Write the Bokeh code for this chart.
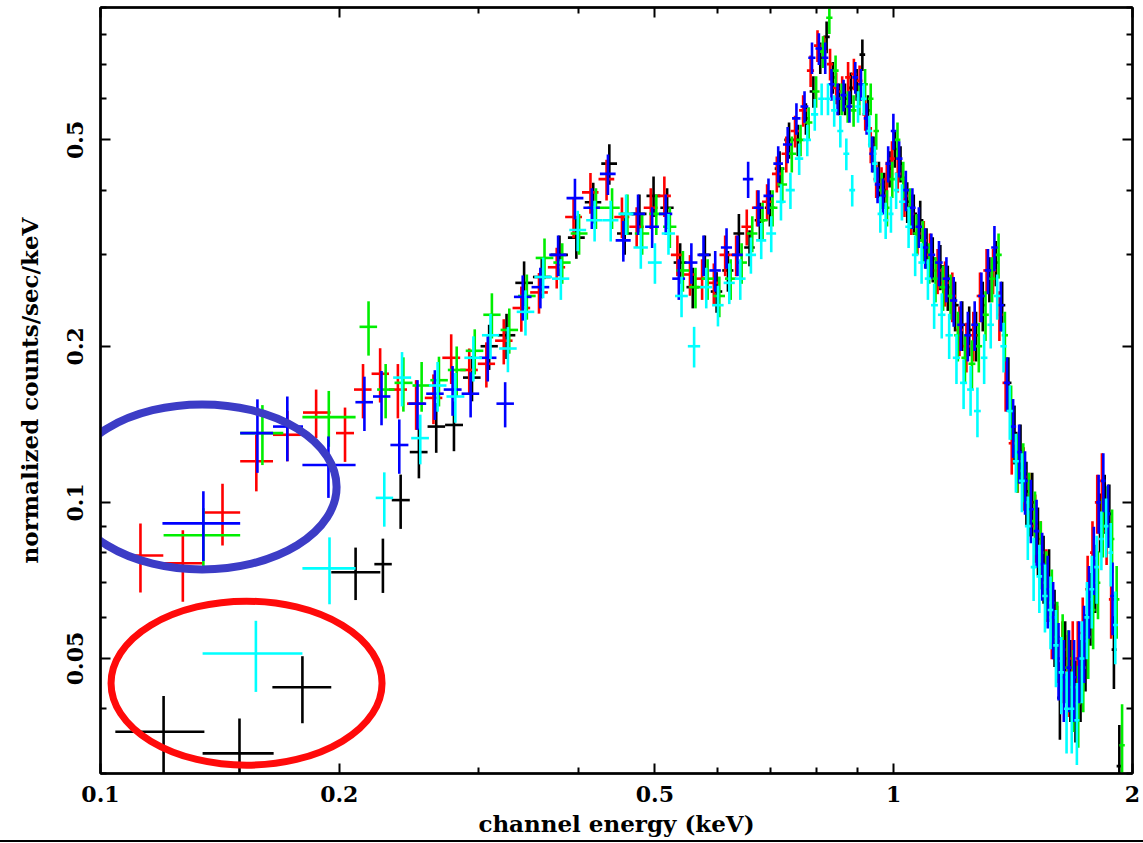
import math
from bokeh.plotting import figure
from bokeh.models import ColumnDataSource, FixedTicker, LogAxis, Range1d, CustomJSTickFormatter
from bokeh.embed import file_html
from bokeh.resources import INLINE

NaN = float("nan")

# ---------------- data ----------------
# common channel-energy grid (keV) above 0.2 keV
energy = [0.205, 0.216, 0.227, 0.239, 0.252, 0.265, 0.279, 0.294, 0.309, 0.325,
          0.342, 0.360, 0.379, 0.398, 0.418, 0.438, 0.458, 0.478, 0.498, 0.518,
          0.538, 0.558, 0.578, 0.598, 0.618, 0.638, 0.658, 0.678, 0.698, 0.718,
          0.738, 0.757, 0.775, 0.792, 0.808, 0.823, 0.838, 0.853, 0.868, 0.883,
          0.898, 0.913, 0.928, 0.943, 0.958, 0.973, 0.988, 1.003, 1.02, 1.04,
          1.06, 1.08, 1.10, 1.12, 1.145, 1.17, 1.195, 1.22, 1.245, 1.27,
          1.295, 1.32, 1.345, 1.37, 1.395, 1.42, 1.445, 1.47, 1.495, 1.52,
          1.545, 1.57, 1.595, 1.62, 1.645, 1.67, 1.695, 1.72, 1.745, 1.77,
          1.795, 1.82, 1.845, 1.87, 1.895, 1.925]

# relative 1-sigma error (%) on the grid
err_pct = [12, 12, 12, 12, 11, 11, 11, 10, 10, 10,
           10, 9, 9, 9, 9, 9, 9, 9, 9, 9,
           9, 9, 9, 9, 9, 9, 8, 8, 8, 8,
           8, 7, 7, 7, 7, 7, 7, 7, 7, 7,
           7, 7, 7, 8, 8, 8, 8, 8, 8, 9,
           9, 9, 9, 10, 10, 10, 11, 11, 11, 11,
           11, 10, 10, 11, 12, 13, 13, 14, 14, 15,
           15, 16, 17, 17, 18, 18, 18, 18, 17, 16,
           15, 13, 13, 14, 16, 20]

black_counts = [NaN, NaN, 0.076, 0.101, 0.125, 0.14, 0.141, 0.174, 0.20, 0.21,
                0.265, 0.272, 0.30, 0.324, 0.379, 0.45, 0.33, 0.36, 0.39, 0.37,
                0.29, 0.26, 0.30, 0.255, 0.28, 0.33, 0.31, 0.35, 0.37, 0.44,
                0.50, 0.50, 0.55, 0.62, 0.72, 0.79, 0.66, 0.60, 0.60, 0.63,
                0.64, 0.73, 0.57, 0.47, 0.42, 0.40, 0.44, 0.48, 0.45, 0.38,
                0.36, 0.35, 0.31, 0.295, 0.285, 0.26, 0.24, 0.22, 0.215, 0.21,
                0.24, 0.27, 0.29, 0.24, 0.17, 0.136, 0.125, 0.105, 0.10, 0.085,
                0.075, 0.07, 0.058, 0.042, 0.05, 0.046, 0.042, 0.046, 0.052, 0.063,
                0.072, 0.092, 0.10, 0.095, 0.052, 0.031]

red_counts = [0.136, 0.165, 0.177, 0.165, 0.155, 0.159, 0.19, 0.18, 0.185, 0.205,
              0.237, 0.254, 0.284, 0.355, 0.396, 0.42, 0.355, 0.34, 0.37, 0.39,
              0.30, 0.275, 0.27, 0.265, 0.30, 0.30, 0.34, 0.37, 0.38, 0.43,
              0.47, 0.52, 0.57, 0.68, 0.76, 0.74, 0.70, 0.63, 0.62, 0.66,
              0.67, 0.65, 0.56, 0.49, 0.42, 0.41, 0.42, 0.46, 0.43, 0.39,
              0.36, 0.33, 0.32, 0.30, 0.28, 0.265, 0.25, 0.215, 0.20, 0.21,
              0.25, 0.28, 0.28, 0.23, 0.17, 0.13, 0.12, 0.112, 0.10, 0.09,
              0.08, 0.07, 0.06, 0.054, 0.05, 0.047, 0.05, 0.05, 0.056, 0.068,
              0.08, 0.10, 0.11, 0.088, 0.065, NaN]

green_counts = [NaN, 0.218, 0.165, 0.17, 0.168, 0.172, 0.18, 0.196, 0.23, 0.215,
                0.25, 0.296, 0.29, 0.33, 0.37, 0.37, 0.36, 0.33, 0.36, 0.34,
                0.28, 0.26, 0.27, 0.25, 0.27, 0.29, 0.33, 0.35, 0.37, 0.41,
                0.47, 0.50, 0.54, 0.62, 0.74, 0.86, 0.68, 0.60, 0.58, 0.57,
                0.60, 0.64, 0.60, 0.52, 0.40, 0.37, 0.42, 0.50, 0.42, 0.37,
                0.33, 0.32, 0.29, 0.27, 0.26, 0.25, 0.21, 0.19, 0.185, 0.20,
                0.23, 0.27, 0.30, 0.21, 0.15, 0.12, 0.115, 0.10, 0.092, 0.08,
                0.07, 0.064, 0.055, 0.052, 0.048, 0.044, 0.041, 0.048, 0.055, 0.062,
                0.07, 0.09, 0.095, 0.085, 0.065, 0.034]

blue_counts = [NaN, 0.156, 0.16, 0.129, 0.155, 0.162, 0.165, 0.162, 0.19, 0.155,
               0.249, 0.26, 0.30, 0.386, 0.37, 0.43, 0.32, 0.36, 0.34, 0.36,
               0.27, 0.29, 0.30, 0.28, 0.31, 0.30, 0.42, 0.37, 0.39, 0.45,
               0.49, 0.55, 0.58, 0.72, 0.75, 0.72, 0.64, 0.60, 0.61, 0.58,
               0.66, 0.64, 0.55, 0.47, 0.41, 0.39, 0.45, 0.52, 0.46, 0.40,
               0.37, 0.34, 0.31, 0.30, 0.29, 0.27, 0.245, 0.22, 0.21, 0.22,
               0.25, 0.28, 0.31, 0.24, 0.17, 0.14, 0.125, 0.11, 0.097, 0.088,
               0.076, 0.068, 0.06, 0.05, 0.046, 0.048, 0.046, 0.05, 0.054, 0.065,
               0.078, 0.10, 0.11, 0.095, 0.066, NaN]

cyan_counts = [NaN, NaN, 0.102, 0.174, 0.133, 0.168, 0.16, 0.19, 0.21, 0.198,
               0.233, 0.272, 0.27, 0.335, 0.35, 0.35, 0.36, 0.31, 0.29, 0.33,
               0.25, 0.20, 0.26, 0.24, 0.265, 0.27, 0.30, 0.32, 0.33, 0.38,
               0.40, 0.46, 0.50, 0.56, 0.60, 0.60, 0.57, 0.52, 0.47, 0.40,
               0.58, 0.60, 0.52, 0.45, 0.36, 0.35, 0.36, 0.40, 0.38, 0.34,
               0.30, 0.29, 0.27, 0.24, 0.23, 0.21, 0.19, 0.17, 0.165, 0.15,
               0.19, 0.22, 0.25, 0.20, 0.15, 0.12, 0.11, 0.09, 0.075, 0.072,
               0.066, 0.062, 0.053, 0.047, 0.04, 0.04, 0.038, 0.05, 0.06, 0.068,
               0.075, 0.085, 0.09, 0.08, 0.058, NaN]

# wide low-energy bins (below ~0.23 keV), per series
black_low_e = [0.1201, 0.1497, 0.1797, 0.2097]
black_low_lo = [0.1044, 0.1345, 0.1647, 0.1954]
black_low_hi = [0.1352, 0.1653, 0.1954, 0.2253]
black_low_c = [0.0361, 0.0328, 0.0440, 0.0733]
black_low_err = [0.0062, 0.0055, 0.0065, 0.0085]

red_low_e = [0.1123, 0.127, 0.1425, 0.1572, 0.172, 0.187]
red_low_lo = [0.109, 0.120, 0.1352, 0.150, 0.165, 0.180]
red_low_hi = [0.120, 0.1345, 0.150, 0.165, 0.180, 0.195]
red_low_c = [0.079, 0.0763, 0.0956, 0.120, 0.135, 0.149]
red_low_err = [0.012, 0.012, 0.013, 0.015, 0.015, 0.016]

green_low_e = [0.1348, 0.160, 0.194]
green_low_lo = [0.1201, 0.150, 0.1797]
green_low_hi = [0.150, 0.170, 0.2097]
green_low_c = [0.0864, 0.136, 0.146]
green_low_err = [0.011, 0.018, 0.018]

blue_low_e = [0.1348, 0.1577, 0.172, 0.1938]
blue_low_lo = [0.1197, 0.150, 0.165, 0.1797]
blue_low_hi = [0.150, 0.165, 0.180, 0.2097]
blue_low_c = [0.0911, 0.136, 0.14, 0.118]
blue_low_err = [0.014, 0.022, 0.02, 0.016]

cyan_low_e = [0.157, 0.1944]
cyan_low_lo = [0.1345, 0.1797]
cyan_low_hi = [0.1797, 0.2097]
cyan_low_c = [0.0511, 0.0746]
cyan_low_err = [0.008, 0.011]

x_major = [0.1, 0.2, 0.5, 1, 2]
x_minor = [0.3, 0.4, 0.6, 0.7, 0.8, 0.9]
y_major = [0.05, 0.1, 0.2, 0.5]
y_minor = [0.03, 0.04, 0.06, 0.07, 0.08, 0.09, 0.3, 0.4, 0.6, 0.7, 0.8, 0.9]

# ---------------- styling ----------------
SERIES = [
    ("#000000", black_counts, (black_low_e, black_low_lo, black_low_hi, black_low_c, black_low_err), 1.0),
    ("#ff0000", red_counts, (red_low_e, red_low_lo, red_low_hi, red_low_c, red_low_err), 0.992),
    ("#00ee00", green_counts, (green_low_e, green_low_lo, green_low_hi, green_low_c, green_low_err), 1.008),
    ("#0000ff", blue_counts, (blue_low_e, blue_low_lo, blue_low_hi, blue_low_c, blue_low_err), 0.996),
    ("#00ffff", cyan_counts, (cyan_low_e, cyan_low_lo, cyan_low_hi, cyan_low_c, cyan_low_err), 1.004),
]
FONT = "DejaVu Serif"

p = figure(width=1140, height=840, x_axis_type="log", y_axis_type="log",
           x_range=Range1d(0.1, 2.0), y_range=Range1d(0.03, 0.9),
           output_backend="svg", toolbar_location=None,
           min_border_left=100, min_border_right=8, min_border_top=7, min_border_bottom=67)
p.grid.visible = False
p.outline_line_color = "black"
p.outline_line_width = 2
p.background_fill_color = "white"
p.border_fill_color = "white"

# bin edges of the common grid (midpoints in log space)
edges_lo, edges_hi = [], []
for i, e in enumerate(energy):
    prev_e = energy[i - 1] if i > 0 else e * e / energy[i + 1]
    next_e = energy[i + 1] if i < len(energy) - 1 else e * e / energy[i - 1]
    edges_lo.append(math.sqrt(prev_e * e))
    edges_hi.append(math.sqrt(e * next_e))

for color, counts, low, dodge in SERIES:
    le, llo, lhi, lc, lerr = low
    xs, x0s, x1s, ys, y0s, y1s = [], [], [], [], [], []
    for e, lo, hi, c, er in zip(le, llo, lhi, lc, lerr):
        xs.append(e); x0s.append(lo); x1s.append(hi)
        ys.append(c); y0s.append(c - er); y1s.append(c + er)
    for e, lo, hi, c, pct in zip(energy, edges_lo, edges_hi, counts, err_pct):
        if c != c:
            continue
        er = c * pct / 100.0
        xs.append(e * dodge); x0s.append(lo * dodge); x1s.append(hi * dodge)
        ys.append(c); y0s.append(c - er); y1s.append(c + er)
    src = ColumnDataSource(dict(x=xs, x0=x0s, x1=x1s, y=ys, y0=y0s, y1=y1s))
    p.segment(x0="x0", y0="y", x1="x1", y1="y", source=src, line_color=color, line_width=2.6)
    p.segment(x0="x", y0="y0", x1="x", y1="y1", source=src, line_color=color, line_width=2.6)

# annotation ellipses (centre in data units, size in screen pixels)
p.ellipse(x=[0.1343], y=[0.1071], width=[269], height=[165],
          width_units="screen", height_units="screen",
          fill_color=None, line_color="#3c3cc6", line_width=8)
p.ellipse(x=[0.1528], y=[0.0448], width=[271], height=[164],
          width_units="screen", height_units="screen",
          fill_color=None, line_color="#ff0a0a", line_width=7)

fmt = CustomJSTickFormatter(code="return tick.toString();")
blank = CustomJSTickFormatter(code="return '';")

def style_axis(ax, major, minor, formatter, show):
    ax.ticker = FixedTicker(ticks=major, minor_ticks=minor)
    ax.formatter = formatter
    ax.axis_line_width = 2.5
    ax.axis_line_color = "black"
    ax.major_tick_in = 10
    ax.major_tick_out = 0
    ax.minor_tick_in = 6
    ax.minor_tick_out = 0
    ax.major_tick_line_width = 2
    ax.minor_tick_line_width = 2
    ax.major_label_text_font = FONT
    ax.major_label_text_font_style = "bold"
    ax.major_label_text_font_size = "22px" if show else "1px"
    ax.major_label_text_color = "black"
    ax.axis_label_text_font = FONT
    ax.axis_label_text_font_style = "bold"
    ax.axis_label_text_font_size = "23px"
    ax.axis_label_text_color = "black"
    if not show:
        ax.major_label_standoff = 0

xa = p.xaxis[0]
style_axis(xa, x_major, x_minor, fmt, True)
xa.axis_label = "channel energy (keV)"
xa.major_label_standoff = 12
xa.axis_label_standoff = 5

ya = p.yaxis[0]
style_axis(ya, y_major, y_minor, fmt, True)
ya.axis_label = "normalized counts/sec/keV"
ya.major_label_orientation = "vertical"
ya.major_label_standoff = 17
ya.axis_label_standoff = 22

top = LogAxis()
style_axis(top, x_major, x_minor, blank, False)
p.add_layout(top, "above")
right = LogAxis()
style_axis(right, y_major, y_minor, blank, False)
p.add_layout(right, "right")

html = file_html(p, INLINE)
# thin rule along the bottom edge of the picture (page decoration, fixed so it never scrolls)
rule = '<div style="position:fixed;left:0;top:840px;width:1143px;height:2px;background:#000;"></div>'
html = html.replace("</body>", rule + "</body>")
open("out.html", "w").write(html)
